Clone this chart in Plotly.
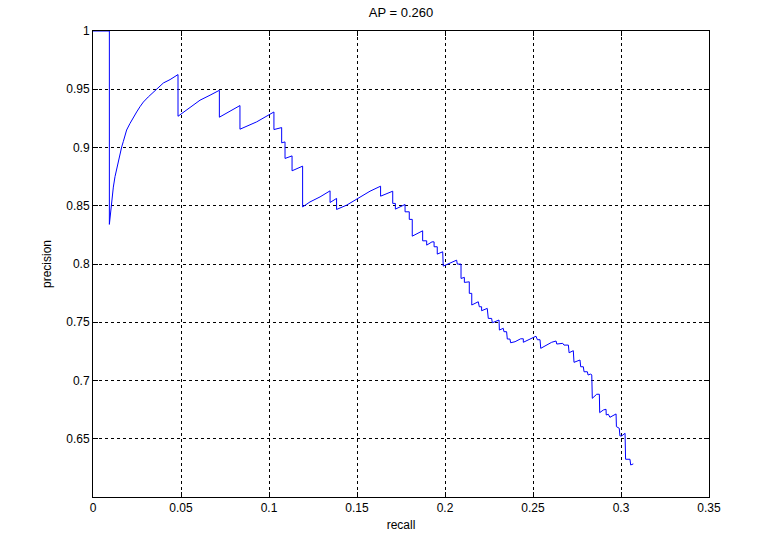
import plotly.graph_objects as go

# Precision-recall curve vertices
recall = [
    0.0, 0.0093, 0.0093, 0.0100, 0.0106, 0.01155, 0.0125, 0.01345, 0.0144, 0.0153,
    0.0163, 0.0172, 0.0182, 0.0191, 0.0210, 0.0229, 0.0248, 0.0267, 0.0286, 0.0314,
    0.0343, 0.0371, 0.0400, 0.0438, 0.0483, 0.0483, 0.0551, 0.0608, 0.0665, 0.0718,
    0.0718, 0.0835, 0.0835, 0.0930, 0.1028, 0.1028, 0.1072, 0.1072, 0.1091, 0.1091,
    0.1131, 0.1131, 0.1191, 0.1191, 0.1233, 0.1290, 0.1347, 0.1347, 0.1384, 0.1384,
    0.1441, 0.1498, 0.1574, 0.1634, 0.1634, 0.1703, 0.1703, 0.1718, 0.1718, 0.1773,
    0.1773, 0.1797, 0.1797, 0.1814, 0.1814, 0.1873, 0.1873, 0.1896, 0.1896, 0.1926,
    0.1938, 0.1938, 0.1956, 0.1956, 0.1987, 0.1990, 0.2028, 0.2066, 0.2070, 0.2091,
    0.2091, 0.2104, 0.2110, 0.2110, 0.2138, 0.2138, 0.2152, 0.2152, 0.2189, 0.2195,
    0.2208, 0.2208, 0.2240, 0.2246, 0.2265, 0.2269, 0.2307, 0.2309, 0.2331, 0.2335,
    0.2350, 0.2354, 0.2369, 0.2373, 0.2398, 0.2430, 0.2445, 0.2445, 0.2483, 0.2517,
    0.2525, 0.2540, 0.2544, 0.2578, 0.2606, 0.2631, 0.2635, 0.2669, 0.2676, 0.2701,
    0.2705, 0.2729, 0.2733, 0.2767, 0.2771, 0.2786, 0.2790, 0.2809, 0.2813, 0.2828,
    0.2834, 0.2837, 0.2862, 0.2877, 0.2879, 0.2900, 0.2915, 0.2916, 0.2928, 0.2937,
    0.2951, 0.2972, 0.2974, 0.2990, 0.2994, 0.3004, 0.3023, 0.3026, 0.3051, 0.3055,
    0.3070,
]
precision = [
    1.0, 1.0, 0.834, 0.846, 0.855, 0.866, 0.875, 0.882, 0.889, 0.895,
    0.9005, 0.905, 0.9105, 0.915, 0.9206, 0.926, 0.9305, 0.935, 0.939, 0.9434,
    0.9477, 0.952, 0.9554, 0.9583, 0.9626, 0.9268, 0.9343, 0.9406, 0.9449, 0.9491,
    0.926, 0.936, 0.9157, 0.922, 0.9305, 0.9154, 0.9171, 0.904, 0.9048, 0.8906,
    0.8928, 0.880, 0.884, 0.849, 0.8533, 0.8576, 0.8628, 0.8528, 0.8563, 0.8468,
    0.8505, 0.8554, 0.8625, 0.8668, 0.8582, 0.8625, 0.852, 0.852, 0.8471, 0.8511,
    0.8448, 0.8448, 0.8383, 0.8383, 0.8239, 0.8285, 0.8199, 0.8199, 0.8162, 0.819,
    0.819, 0.8148, 0.8148, 0.8085, 0.8105, 0.7982, 0.801, 0.8033, 0.7999, 0.7999,
    0.7876, 0.7885, 0.7885, 0.7842, 0.7847, 0.7748, 0.7748, 0.7648, 0.7676, 0.7633,
    0.7633, 0.7599, 0.7619, 0.7533, 0.7533, 0.7496, 0.7519, 0.7433, 0.7448, 0.7419,
    0.7419, 0.7356, 0.7356, 0.7324, 0.7333, 0.7358, 0.7358, 0.7328, 0.7355, 0.738,
    0.735, 0.735, 0.7276, 0.7304, 0.7328, 0.7339, 0.7313, 0.7319, 0.7304, 0.7304,
    0.7238, 0.7256, 0.7156, 0.7176, 0.7118, 0.7118, 0.7075, 0.7075, 0.7047, 0.7056,
    0.7047, 0.6847, 0.6882, 0.6882, 0.6724, 0.6747, 0.6753, 0.6704, 0.6710, 0.6684,
    0.6696, 0.6713, 0.6604, 0.6590, 0.6524, 0.6524, 0.6547, 0.6324, 0.6324, 0.6275,
    0.6284,
]

title_text = "AP = 0.260"
x_ticks = [0, 0.05, 0.1, 0.15, 0.2, 0.25, 0.3, 0.35]
x_ticklabels = ["0", "0.05", "0.1", "0.15", "0.2", "0.25", "0.3", "0.35"]
y_ticks = [0.65, 0.7, 0.75, 0.8, 0.85, 0.9, 0.95, 1.0]
y_ticklabels = ["0.65", "0.7", "0.75", "0.8", "0.85", "0.9", "0.95", "1"]

fig = go.Figure()
fig.add_trace(go.Scatter(
    x=recall, y=precision, mode="lines",
    line=dict(color="rgb(0,0,255)", width=1),
    showlegend=False, hoverinfo="x+y",
))

font_family = "Liberation Sans, Arial, sans-serif"
axis_common = dict(
    showline=True, linecolor="black", linewidth=1, mirror="ticks",
    ticks="inside", ticklen=5, tickcolor="black", tickwidth=1,
    showgrid=True, gridcolor="black", gridwidth=1, griddash="3px,3px",
    zeroline=False, automargin=False,
    tickfont=dict(family=font_family, size=12, color="black"),
)

fig.update_layout(
    width=771, height=549,
    paper_bgcolor="white", plot_bgcolor="white",
    margin=dict(l=93, r=62, t=31, b=52),
    title=dict(text=title_text, x=0.5, xanchor="center", xref="paper",
               y=1, yref="container", yanchor="top", pad=dict(t=8),
               font=dict(family=font_family, size=13, color="black")),
    xaxis=dict(range=[0, 0.35], tickvals=x_ticks, ticktext=x_ticklabels,
               title=dict(text="recall", standoff=6,
                          font=dict(family=font_family, size=12, color="black")),
               **axis_common),
    yaxis=dict(range=[0.6, 1.0], tickvals=y_ticks, ticktext=y_ticklabels,
               title=dict(text="precision", standoff=12,
                          font=dict(family=font_family, size=12, color="black")),
               **axis_common),
)

# remove the browser's default 8px body margin so the figure fills the window
fig.write_html("out.html",
               config={"displayModeBar": False},
               post_script="document.body.style.margin='0';document.body.style.overflow='hidden';")
